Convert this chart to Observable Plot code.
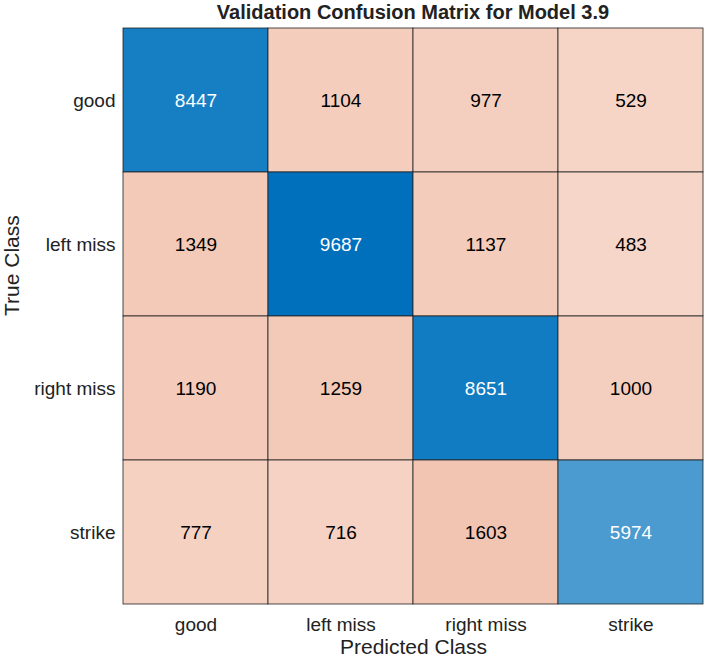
<!DOCTYPE html>
<html><head><meta charset="utf-8">
<script src="https://cdn.jsdelivr.net/npm/d3@7"></script>
<script src="https://cdn.jsdelivr.net/npm/@observablehq/plot@0.6"></script>
<style>body{margin:0;background:#fff;font-family:"Liberation Sans",Arial,sans-serif}
#t{height:26px;line-height:24px;text-align:center;font-weight:bold;font-size:20px;color:#222;padding-left:120px;box-sizing:border-box;width:706px}</style>
</head><body><div id="t">Validation Confusion Matrix for Model 3.9</div><div id="c"></div>
<script>
const classes = ["good","left miss","right miss","strike"];
const counts = [
  [8447,1104,977,529],
  [1349,9687,1137,483],
  [1190,1259,8651,1000],
  [777,716,1603,5974]
];
const maxV = d3.max(counts.flat());
const blue = d3.interpolateRgb("#ffffff","rgb(0,114,189)");
const orange = d3.interpolateRgb("#ffffff","rgb(217,83,25)");
const cells = [];
counts.forEach((row,i)=>row.forEach((v,j)=>{
  const t = 0.2 + 0.82*v/maxV;
  cells.push({truth:classes[i],pred:classes[j],v,fill:i===j?blue(t):orange(t),txt:i===j?"white":"black"});
}));
const chart = Plot.plot({
  width:706,height:636,marginTop:0,marginBottom:57,marginLeft:123,marginRight:3,
  style:{fontFamily:"Liberation Sans, Arial, sans-serif",fontSize:"19px",color:"#222"},
  x:{domain:classes,padding:0,label:null,tickSize:0,tickPadding:10},
  y:{domain:classes,padding:0,label:null,tickSize:0,tickPadding:8},
  marks:[
    Plot.cell(cells,{x:"pred",y:"truth",fill:d=>d.fill,stroke:"#222",strokeWidth:0.8,inset:0}),
    Plot.text(cells,{x:"pred",y:"truth",text:d=>String(d.v),fill:d=>d.txt,fontSize:19}),
    Plot.axisX({tickSize:0,tickPadding:12,fontSize:19,label:null}),
    Plot.axisY({tickSize:0,tickPadding:8,fontSize:19,label:null}),
    Plot.text(["Predicted Class"],{frameAnchor:"bottom",dy:48,fontSize:21,fill:"#222"}),
    Plot.text(["True Class"],{frameAnchor:"left",dx:-111,rotate:-90,fontSize:21,fill:"#222"})
  ]
});
chart.style.overflow="visible";
document.getElementById("c").append(chart);
</script></body></html>
